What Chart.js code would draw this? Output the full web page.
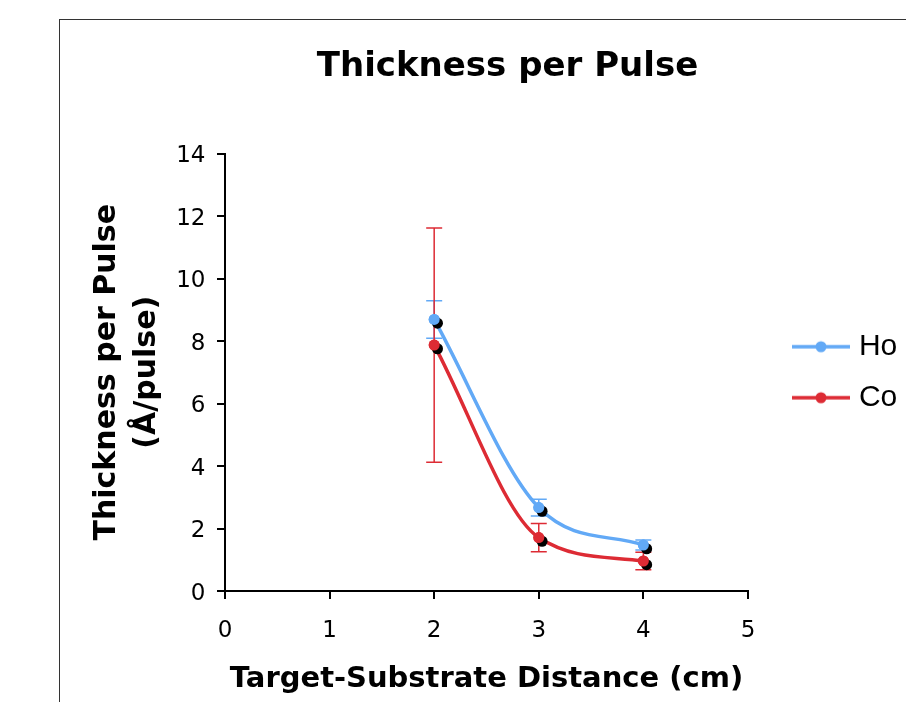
<!DOCTYPE html>
<html>
<head>
<meta charset="utf-8">
<title>Thickness per Pulse</title>
<script src="https://cdn.jsdelivr.net/npm/chart.js@4.4.1/dist/chart.umd.min.js"></script>
<style>
  html, body { margin: 0; padding: 0; background: #fff; }
  #wrap { position: relative; width: 906px; height: 702px; overflow: hidden; }
  #chart { position: absolute; left: 0; top: 0; }
  #frame { position: absolute; left: 59px; top: 19px; width: 1000px; height: 1000px; border: 1px solid #333; pointer-events: none; }
</style>
</head>
<body>
<div id="wrap">
  <canvas id="chart" width="1010" height="702"></canvas>
  <div id="frame"></div>
</div>
<script>
// values
const distances = [2, 3, 4];
const hotValues = [8.69, 2.67, 1.47];
const hotErrors = [0.6, 0.27, 0.16];
const coldValues = [7.87, 1.71, 0.96];
const coldErrors = [3.75, 0.45, 0.28];
const seriesLabels = ['Ho', 'Co'];
const xTicks = [0, 1, 2, 3, 4, 5];
const yTicks = [0, 2, 4, 6, 8, 10, 12, 14];

const HOT = '#62a9f6';
const COLD = '#dd2b34';

Chart.defaults.font.family = "'DejaVu Sans', Verdana, sans-serif";
Chart.defaults.color = '#000';

const toPoints = (values) => values.map((v, i) => ({ x: distances[i], y: v }));

// little line-with-dot symbol for the legend
function legendSymbol(color) {
  const c = document.createElement('canvas');
  c.width = 58;
  c.height = 14;
  const g = c.getContext('2d');
  g.strokeStyle = color;
  g.lineWidth = 3.5;
  g.beginPath();
  g.moveTo(0, 7);
  g.lineTo(58, 7);
  g.stroke();
  g.fillStyle = color;
  g.beginPath();
  g.arc(29, 7, 5.5, 0, Math.PI * 2);
  g.fill();
  return c;
}

const errorBars = {
  id: 'errorBars',
  beforeDatasetsDraw(chart) {
    const { ctx, scales: { x, y } } = chart;
    chart.data.datasets.forEach((ds) => {
      ctx.save();
      ctx.strokeStyle = ds.borderColor;
      ctx.lineWidth = 1.5;
      ds.data.forEach((p, j) => {
        const px = x.getPixelForValue(p.x);
        const top = y.getPixelForValue(p.y + ds.errors[j]);
        const bot = y.getPixelForValue(p.y - ds.errors[j]);
        ctx.beginPath();
        ctx.moveTo(px, top);
        ctx.lineTo(px, bot);
        ctx.moveTo(px - 8, top);
        ctx.lineTo(px + 8, top);
        ctx.moveTo(px - 8, bot);
        ctx.lineTo(px + 8, bot);
        ctx.stroke();
      });
      ctx.restore();
    });
  }
};

// dark drop shadow behind each marker, as in the old spreadsheet chart
const markerShadow = {
  id: 'markerShadow',
  afterDatasetsDraw(chart) {
    const { ctx } = chart;
    for (let i = chart.data.datasets.length - 1; i >= 0; i--) {
      const meta = chart.getDatasetMeta(i);
      meta.data.forEach((pt) => {
        ctx.save();
        ctx.fillStyle = '#000';
        ctx.beginPath();
        ctx.arc(pt.x + 3.3, pt.y + 3.7, 5.5, 0, Math.PI * 2);
        ctx.fill();
        ctx.restore();
        pt.draw(ctx, chart.chartArea);
      });
    }
  }
};

const axisGrid = { display: true, drawOnChartArea: false, drawTicks: true, tickLength: 8, color: '#000', lineWidth: 2 };
const axisBorder = { display: true, color: '#000', width: 2 };
const spacer = (weight, width) => ({
  type: 'linear',
  position: 'right',
  weight: weight,
  display: true,
  grid: { display: false },
  border: { display: false },
  ticks: { display: false },
  afterFit: (s) => { s.width = width; }
});

new Chart(document.getElementById('chart'), {
  type: 'line',
  data: {
    datasets: [
      {
        label: seriesLabels[0],
        data: toPoints(hotValues),
        errors: hotErrors,
        borderColor: HOT,
        backgroundColor: HOT,
        borderWidth: 3.5,
        cubicInterpolationMode: 'monotone',
        pointRadius: 5.5,
        pointBorderWidth: 0,
        pointBackgroundColor: HOT
      },
      {
        label: seriesLabels[1],
        data: toPoints(coldValues),
        errors: coldErrors,
        borderColor: COLD,
        backgroundColor: COLD,
        borderWidth: 3.5,
        cubicInterpolationMode: 'monotone',
        pointRadius: 5.5,
        pointBorderWidth: 0,
        pointBackgroundColor: COLD
      }
    ]
  },
  options: {
    responsive: false,
    animation: false,
    devicePixelRatio: 1,
    layout: { padding: { left: 70, right: 65, top: 0, bottom: 0 } },
    plugins: {
      title: {
        display: true,
        text: 'Thickness per Pulse',
        color: '#000',
        font: { size: 34, weight: 'bold', lineHeight: 1.2 },
        padding: { top: 47, bottom: 65.7 }
      },
      legend: {
        position: 'right',
        fullSize: false,
        maxWidth: 300,
        labels: {
          usePointStyle: true,
          pointStyleWidth: 46,
          padding: 21,
          color: '#000',
          font: { family: "'Liberation Sans', Arial, sans-serif", size: 30 },
          generateLabels: (chart) => chart.data.datasets.map((ds, i) => ({
            text: ds.label,
            pointStyle: legendSymbol(ds.borderColor),
            fillStyle: ds.borderColor,
            strokeStyle: ds.borderColor,
            lineWidth: 0,
            hidden: false,
            fontColor: '#000',
            datasetIndex: i
          }))
        }
      },
      tooltip: { enabled: false }
    },
    scales: {
      x: {
        type: 'linear',
        position: 'bottom',
        min: xTicks[0],
        max: xTicks[xTicks.length - 1],
        afterBuildTicks: (s) => { s.ticks = xTicks.map((v) => ({ value: v })); },
        afterFit: (s) => { s.height = 111; },
        grid: axisGrid,
        border: axisBorder,
        ticks: { color: '#000', font: { size: 23 }, padding: 18.5, maxRotation: 0 },
        title: {
          display: true,
          text: 'Target-Substrate Distance (cm)',
          color: '#000',
          font: { size: 29, weight: 'bold', lineHeight: 1.2 },
          padding: { top: 0, bottom: 5 }
        }
      },
      y: {
        type: 'linear',
        position: 'left',
        min: yTicks[0],
        max: yTicks[yTicks.length - 1],
        afterBuildTicks: (s) => { s.ticks = yTicks.map((v) => ({ value: v })); },
        afterFit: (s) => { s.width = 155; },
        grid: axisGrid,
        border: axisBorder,
        ticks: { color: '#000', font: { size: 23 }, padding: 11.5, labelOffset: 3 },
        title: {
          display: true,
          text: ['Thickness per Pulse', '(Å/pulse)'],
          color: '#000',
          font: { size: 30, weight: 'bold', lineHeight: 1.33 },
          padding: { top: 17.6, bottom: 0 }
        }
      },
      padA: spacer(0, 29),
      padB: spacer(2000, 37.7)
    }
  },
  plugins: [errorBars, markerShadow]
});
</script>
</body>
</html>
